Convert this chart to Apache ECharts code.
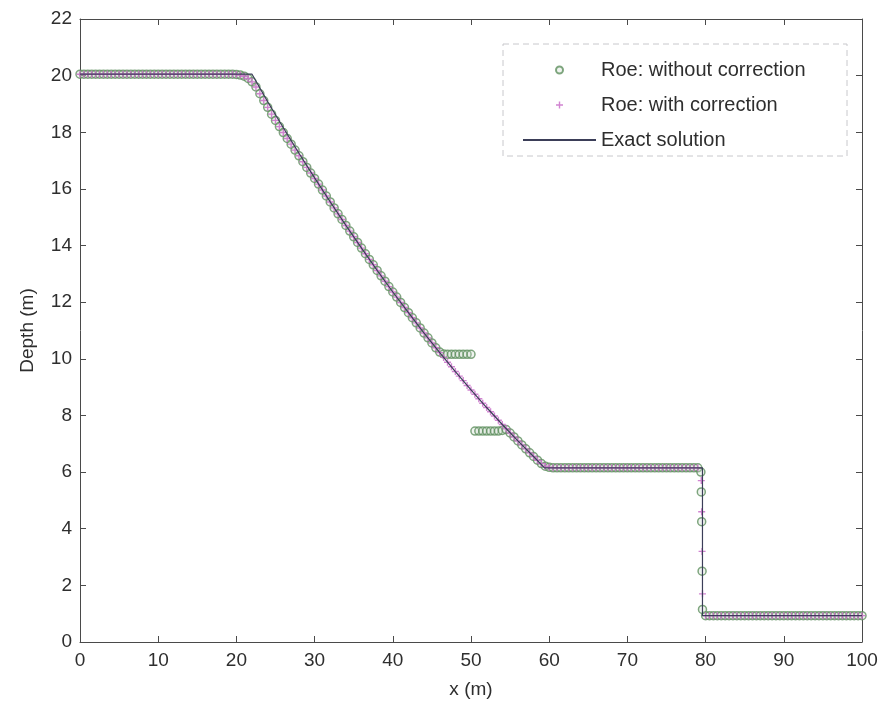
<!DOCTYPE html>
<html>
<head>
<meta charset="utf-8">
<script src="https://cdn.jsdelivr.net/npm/echarts@6/dist/echarts.min.js"></script>
<style>html,body{margin:0;padding:0;background:#fff}#c{width:886px;height:706px}</style>
</head>
<body>
<div id="c"></div>
<script>
// x positions of computed cells (m)
const xMesh = [0,0.5,1,1.5,2,2.5,3,3.5,4,4.5,5,5.5,6,6.5,7,7.5,8,8.5,9,9.5,10,10.5,11,11.5,12,12.5,13,13.5,14,14.5,15,15.5,16,16.5,17,17.5,18,18.5,19,19.5,
20,20.5,21,21.5,22,22.5,23,23.5,24,24.5,25,25.5,26,26.5,27,27.5,28,28.5,29,29.5,30,30.5,31,31.5,32,32.5,33,33.5,34,34.5,35,35.5,36,36.5,37,37.5,38,38.5,39,39.5,
40,40.5,41,41.5,42,42.5,43,43.5,44,44.5,45,45.5,46,46.5,47,47.5,48,48.5,49,49.5,50,50.5,51,51.5,52,52.5,53,53.5,54,54.5,55,55.5,56,56.5,57,57.5,58,58.5,59,59.5,
60,60.5,61,61.5,62,62.5,63,63.5,64,64.5,65,65.5,66,66.5,67,67.5,68,68.5,69,69.5,70,70.5,71,71.5,72,72.5,73,73.5,74,74.5,75,75.5,76,76.5,77,77.5,78,78.5,79,79.5,
80,80.5,81,81.5,82,82.5,83,83.5,84,84.5,85,85.5,86,86.5,87,87.5,88,88.5,89,89.5,90,90.5,91,91.5,92,92.5,93,93.5,94,94.5,95,95.5,96,96.5,97,97.5,98,98.5,99,99.5,100];

// Roe: without correction (depth, m)
const yWithout = [20.05,20.05,20.05,20.05,20.05,20.05,20.05,20.05,20.05,20.05,20.05,20.05,20.05,20.05,20.05,20.05,20.05,20.05,20.05,20.05,
20.05,20.05,20.05,20.05,20.05,20.05,20.05,20.05,20.05,20.05,20.05,20.05,20.05,20.05,20.05,20.05,20.05,20.05,20.05,20.05,
20.04,20.02,19.98,19.9,19.78,19.6,19.36,19.12,18.88,18.64,18.42,18.2,17.99,17.78,17.58,17.37,17.17,16.96,16.76,16.56,
16.37,16.17,15.96,15.75,15.54,15.33,15.12,14.92,14.71,14.51,14.31,14.11,13.91,13.71,13.51,13.32,13.12,12.93,12.74,12.55,
12.36,12.18,11.99,11.81,11.63,11.45,11.27,11.09,10.91,10.74,10.56,10.39,10.24,10.17,
10.16,10.16,10.16,10.16,10.16,10.16,10.16,
7.45,7.45,7.45,7.45,7.45,7.45,7.45,
7.47,7.5,7.38,7.24,7.1,6.96,6.82,6.68,6.55,6.42,6.3,6.21,6.17,
6.15,6.15,6.15,6.15,6.15,6.15,6.15,6.15,6.15,6.15,6.15,6.15,6.15,6.15,6.15,6.15,6.15,6.15,6.15,
6.15,6.15,6.15,6.15,6.15,6.15,6.15,6.15,6.15,6.15,6.15,6.15,6.15,6.15,6.15,6.15,6.15,6.15,6.15,
4.25,
0.93,0.93,0.93,0.93,0.93,0.93,0.93,0.93,0.93,0.93,0.93,0.93,0.93,0.93,0.93,0.93,0.93,0.93,0.93,0.93,
0.93,0.93,0.93,0.93,0.93,0.93,0.93,0.93,0.93,0.93,0.93,0.93,0.93,0.93,0.93,0.93,0.93,0.93,0.93,0.93,0.93];
// extra cells read inside the shock
const xShockWithout = [79.4,79.45,79.55,79.6];
const yShockWithout = [6.0,5.3,2.5,1.15];

// Roe: with correction (depth, m)
const yWith = [20.05,20.05,20.05,20.05,20.05,20.05,20.05,20.05,20.05,20.05,20.05,20.05,20.05,20.05,20.05,20.05,20.05,20.05,20.05,20.05,
20.05,20.05,20.05,20.05,20.05,20.05,20.05,20.05,20.05,20.05,20.05,20.05,20.05,20.05,20.05,20.05,20.05,20.05,20.05,20.05,
20.04,20.02,19.98,19.9,19.78,19.6,19.36,19.12,18.88,18.64,18.42,18.2,17.99,17.78,17.58,17.37,17.17,16.96,16.76,16.56,
16.37,16.17,15.96,15.75,15.54,15.33,15.12,14.92,14.71,14.51,14.31,14.11,13.91,13.71,13.51,13.32,13.12,12.93,12.74,12.55,
12.36,12.18,11.99,11.81,11.63,11.45,11.27,11.09,10.91,10.74,10.56,10.39,10.22,10.05,
9.88,9.72,9.55,9.39,9.23,9.06,8.9,
8.75,8.59,8.43,8.28,8.13,7.98,7.83,
7.68,7.53,7.38,7.24,7.1,6.96,6.82,6.68,6.55,6.42,6.3,6.21,6.17,
6.15,6.15,6.15,6.15,6.15,6.15,6.15,6.15,6.15,6.15,6.15,6.15,6.15,6.15,6.15,6.15,6.15,6.15,6.15,
6.15,6.15,6.15,6.15,6.15,6.15,6.15,6.15,6.15,6.15,6.15,6.15,6.15,6.15,6.15,6.15,6.15,6.15,6.15,
4.6,
0.93,0.93,0.93,0.93,0.93,0.93,0.93,0.93,0.93,0.93,0.93,0.93,0.93,0.93,0.93,0.93,0.93,0.93,0.93,0.93,
0.93,0.93,0.93,0.93,0.93,0.93,0.93,0.93,0.93,0.93,0.93,0.93,0.93,0.93,0.93,0.93,0.93,0.93,0.93,0.93,0.93];
const xShockWith = [79.45,79.55,79.6];
const yShockWith = [5.7,3.2,1.7];

// Exact solution
const xExact = [0,22,24,26,28,30,32,34,36,38,40,42,44,46,48,50,52,54,56,58,59.4,79.6,79.6,100];
const yExact = [20.05,20.05,19.08,18.16,17.26,16.39,15.54,14.71,13.91,13.12,12.36,11.63,10.91,10.22,9.55,8.9,8.28,7.68,7.1,6.55,6.15,6.15,0.93,0.93];

const seriesNames = ['Roe: without correction','Roe: with correction','Exact solution'];
const xTicks = [0,10,20,30,40,50,60,70,80,90,100];
const yTicks = [0,2,4,6,8,10,12,14,16,18,20,22];

function pairs(xs, ys){ return xs.map((x,i)=>[x, ys[i]]); }

const chart = echarts.init(document.getElementById('c'));
const font = 'Liberation Sans, Arial, sans-serif';
const axisCol = '#4a4a4a';
const textCol = '#2e2e2e';
const baseX = {
  type:'value', min:xTicks[0], max:xTicks[xTicks.length-1], interval:10,
  axisLine:{show:true, onZero:false, lineStyle:{color:axisCol, width:1}},
  axisTick:{show:true, inside:true, length:6, lineStyle:{color:axisCol}},
  splitLine:{show:false}
};
const baseY = {
  type:'value', min:yTicks[0], max:yTicks[yTicks.length-1], interval:2,
  axisLine:{show:true, onZero:false, lineStyle:{color:axisCol, width:1}},
  axisTick:{show:true, inside:true, length:6, lineStyle:{color:axisCol}},
  splitLine:{show:false}
};
chart.setOption({
  animation:false,
  backgroundColor:'#ffffff',
  grid:{left:80, right:24, top:19, bottom:64, containLabel:false},
  xAxis:[
    Object.assign({}, baseX, {position:'bottom', name:'x (m)', nameLocation:'middle', nameGap:38,
      nameTextStyle:{fontFamily:font, fontSize:19, color:textCol},
      axisLabel:{fontFamily:font, fontSize:19, color:textCol, margin:9}}),
    Object.assign({}, baseX, {position:'top', axisLabel:{show:false}})
  ],
  yAxis:[
    Object.assign({}, baseY, {position:'left', name:'Depth (m)', nameLocation:'middle', nameGap:43,
      nameTextStyle:{fontFamily:font, fontSize:19, color:textCol},
      axisLabel:{fontFamily:font, fontSize:19, color:textCol, margin:8}}),
    Object.assign({}, baseY, {position:'right', axisLabel:{show:false}})
  ],
  legend:{
    orient:'vertical', left:517, top:54, itemGap:13, itemWidth:73, itemHeight:7,
    data:seriesNames,
    textStyle:{fontFamily:font, fontSize:20, color:textCol, lineHeight:22},
    selectedMode:false
  },
  graphic:[{
    type:'rect', shape:{x:503, y:44, width:344, height:112},
    style:{fill:'rgba(255,255,255,0.9)', stroke:'#c8c8cc', lineWidth:1, lineDash:[6,4]},
    z:0, silent:true
  }],
  series:[
    {
      name:seriesNames[0], type:'scatter', symbol:'circle', symbolSize:8,
      data:pairs(xMesh, yWithout).concat(pairs(xShockWithout, yShockWithout)),
      itemStyle:{color:'rgba(200,215,200,0.35)', borderColor:'#5f905f', borderWidth:1.5},
      z:2
    },
    {
      name:seriesNames[1], type:'scatter', symbol:'path://M4,0H6V10H4Z M0,4H10V6H0Z', symbolSize:7,
      data:pairs(xMesh, yWith).concat(pairs(xShockWith, yShockWith)),
      itemStyle:{color:'#c96fc9', opacity:0.85},
      z:3
    },
    {
      name:seriesNames[2], type:'line', showSymbol:false, symbol:'none',
      data:pairs(xExact, yExact),
      lineStyle:{color:'#3b3e58', width:1.2},
      itemStyle:{color:'rgba(0,0,0,0)', borderColor:'rgba(0,0,0,0)', borderWidth:0},
      z:4
    }
  ]
});
</script>
</body>
</html>
